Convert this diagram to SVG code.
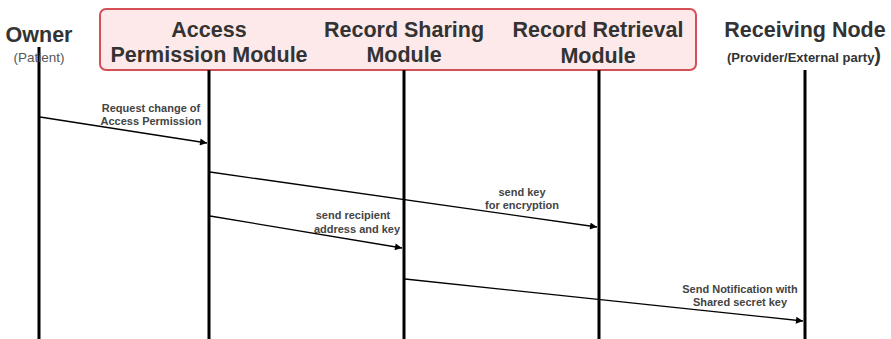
<svg xmlns="http://www.w3.org/2000/svg" width="891" height="339" viewBox="0 0 891 339">
<style>
.hdr{font-family:"Liberation Sans",Arial,sans-serif;font-weight:bold;font-size:21.5px;fill:#333;text-anchor:middle}
.sub{font-family:"Liberation Sans",Arial,sans-serif;font-size:13.5px;fill:#555;text-anchor:middle}
.lbl{font-family:"Liberation Sans",Arial,sans-serif;font-weight:bold;font-size:11px;fill:#444;text-anchor:middle}
.life{stroke:#000;stroke-width:3;fill:none}
.msg{stroke:#000;stroke-width:1.3;fill:none;marker-end:url(#ah)}
</style>
<defs>
<marker id="ah" viewBox="0 0 10 10" refX="10" refY="5" markerWidth="9" markerHeight="7" markerUnits="userSpaceOnUse" orient="auto">
<path d="M0,0 L10,5 L0,10 z" fill="#000"/>
</marker>
</defs>
<rect x="0" y="0" width="891" height="339" fill="#fff"/>
<rect id="modules-box" x="100" y="9" width="596" height="61" rx="6" ry="6" fill="#fde9e9" stroke="#d64f57" stroke-width="2"/>
<g id="owner">
<line class="life" x1="39" y1="47" x2="39" y2="339"/>
<text class="hdr" x="39" y="42">Owner</text>
<text class="sub" x="39" y="62">(Patient)</text>
</g>
<g id="access">
<line class="life" x1="209" y1="70" x2="209" y2="339"/>
<text class="hdr" x="209" y="37">Access</text>
<text class="hdr" x="209" y="62">Permission Module</text>
</g>
<g id="sharing">
<line class="life" x1="404" y1="70" x2="404" y2="339"/>
<text class="hdr" x="404" y="37">Record Sharing</text>
<text class="hdr" x="404" y="62">Module</text>
</g>
<g id="retrieval">
<line class="life" x1="599" y1="70" x2="599" y2="339"/>
<text class="hdr" x="598" y="37">Record Retrieval</text>
<text class="hdr" x="598" y="63">Module</text>
</g>
<g id="receiving">
<line class="life" x1="805" y1="70" x2="805" y2="339"/>
<text class="hdr" x="805" y="37">Receiving Node</text>
<text x="804" y="62" style="font-family:'Liberation Sans',Arial,sans-serif;font-weight:bold;font-size:13px;fill:#333;text-anchor:middle">(Provider/External party<tspan style="font-size:20px">)</tspan></text>
</g>
<g id="connectors">
<line class="msg" x1="40" y1="117" x2="207" y2="143"/>
<line class="msg" x1="210" y1="172" x2="597" y2="227"/>
<line class="msg" x1="210" y1="216" x2="402" y2="248"/>
<line class="msg" x1="405" y1="279" x2="803" y2="321"/>
<text class="lbl" x="151" y="112">Request change of</text>
<text class="lbl" x="151" y="125">Access Permission</text>
<text class="lbl" x="522" y="196">send key</text>
<text class="lbl" x="522" y="209">for encryption</text>
<text class="lbl" x="353" y="219">send recipient</text>
<text class="lbl" x="357" y="233">address and key</text>
<text class="lbl" x="740" y="293">Send Notification with</text>
<text class="lbl" x="740" y="306">Shared secret key</text>
</g>
</svg>
